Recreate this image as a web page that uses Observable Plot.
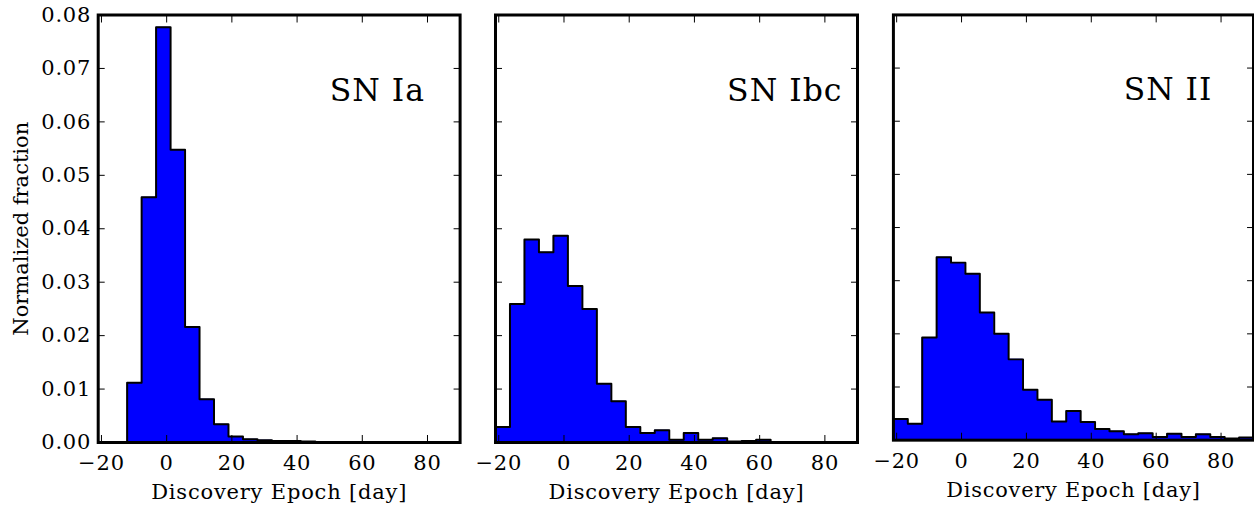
<!DOCTYPE html>
<html>
<head>
<meta charset="utf-8">
<script src="https://cdn.jsdelivr.net/npm/d3@7"></script>
<script src="https://cdn.jsdelivr.net/npm/@observablehq/plot@0.6"></script>
<style>
  html, body { margin: 0; padding: 0; background: #fff; }
  body { width: 1254px; height: 510px; overflow: hidden; position: relative; }
  .panel { position: absolute; top: 0; }
</style>
</head>
<body>
<div id="p1" class="panel" style="left:0px"></div>
<div id="p2" class="panel" style="left:477px"></div>
<div id="p3" class="panel" style="left:875px"></div>
<script>
// Histogram bin edges (days): 25 equal bins from -21 to 90
const binEdges = [-21, -16.56, -12.12, -7.68, -3.24, 1.2, 5.64, 10.08, 14.52, 18.96, 23.4, 27.84,
  32.28, 36.72, 41.16, 45.6, 50.04, 54.48, 58.92, 63.36, 67.8, 72.24, 76.68, 81.12, 85.56, 90];

// Normalized fractions per bin
const snIaValues = [0, 0, 0.0112, 0.0459, 0.0777, 0.0548, 0.0216, 0.0081, 0.0034, 0.0011, 0.0006,
  0.0004, 0.0003, 0.0003, 0.0002, 0, 0, 0, 0, 0, 0, 0, 0, 0, 0];
const snIbcValues = [0.0029, 0.0259, 0.0380, 0.0356, 0.0387, 0.0293, 0.0250, 0.0110, 0.0077, 0.0029,
  0.0018, 0.0023, 0.0005, 0.0018, 0.0005, 0.0008, 0.0002, 0.0003, 0.0005, 0, 0, 0, 0, 0, 0];
const snIIValues = [0.0040, 0.0031, 0.0193, 0.0344, 0.0334, 0.0313, 0.0240, 0.0200, 0.0152, 0.0095,
  0.0076, 0.0035, 0.0055, 0.0034, 0.0021, 0.0017, 0.0011, 0.0013, 0.0006, 0.0012, 0.0006, 0.0011,
  0.0006, 0.0003, 0.0005];

const panelNames = ["SN Ia", "SN Ibc", "SN II"];
const xTicks = [-20, 0, 20, 40, 60, 80];
const yTicks = [0, 0.01, 0.02, 0.03, 0.04, 0.05, 0.06, 0.07, 0.08];
const xDomain = [-21, 90];
const yDomain = [0, 0.08];
const xLabel = "Discovery Epoch [day]";
const yLabel = "Normalized fraction";
const nameX = 50, nameY = 0.064;

const FONT = "DejaVu Serif";
const fmtX = d => d < 0 ? "\u2212" + Math.abs(d) : String(d);
const fmtY = d3.format(".2f");

function stepPoints(values) {
  const pts = [{x: binEdges[0], y: 0}];
  values.forEach((v, i) => {
    pts.push({x: binEdges[i], y: v});
    pts.push({x: binEdges[i + 1], y: v});
  });
  pts.push({x: binEdges[binEdges.length - 1], y: 0});
  return pts;
}

function panel(values, name, opts) {
  const pts = stepPoints(values);
  const marks = [
    Plot.area(pts, {x1: "x", y1: 0, y2: "y", fill: "#0000ff", clip: true}),
    Plot.line(pts, {x: "x", y: "y", stroke: "black", strokeWidth: 2, clip: true}),
    // inward ticks on all four sides
    Plot.axisX(xTicks, {anchor: "bottom", tickSize: -7, tickFormat: () => "", label: null, stroke: "black"}),
    Plot.axisX(xTicks, {anchor: "top", tickSize: -7, tickFormat: () => "", label: null, stroke: "black"}),
    Plot.axisY(yTicks, {anchor: "left", tickSize: -7, tickFormat: () => "", label: null, stroke: "black"}),
    Plot.axisY(yTicks, {anchor: "right", tickSize: -7, tickFormat: () => "", label: null, stroke: "black"}),
    // x tick labels
    Plot.axisX(xTicks, {anchor: "bottom", tickSize: 0, tickPadding: 13, tickFormat: fmtX, label: null,
      fontSize: 21, fontFamily: FONT, fill: "black"}),
    Plot.frame({stroke: "black", strokeWidth: 3}),
    Plot.text([xLabel], {frameAnchor: "bottom", dy: 42, lineAnchor: "top", fontSize: 21, fontFamily: FONT, fill: "black"}),
    Plot.text([name], {x: () => nameX, y: () => nameY, text: d => d, textAnchor: "start", lineAnchor: "bottom",
      fontSize: 31.5, fontFamily: FONT, fill: "black"})
  ];
  if (opts.yLabels) {
    marks.push(Plot.axisY(yTicks, {anchor: "left", tickSize: 0, tickPadding: 7, tickFormat: fmtY, label: null,
      fontSize: 21, fontFamily: FONT, fill: "black"}));
    marks.push(Plot.text([yLabel], {frameAnchor: "left", dx: -77, rotate: -90, textAnchor: "middle",
      fontSize: 21, fontFamily: FONT, fill: "black"}));
  }
  const svg = Plot.plot({
    width: opts.width,
    height: 510,
    marginTop: 14.5,
    marginBottom: 68,
    marginLeft: opts.ml,
    marginRight: opts.mr,
    x: {domain: xDomain},
    y: {domain: yDomain},
    style: {fontFamily: FONT, fontSize: "20px", background: "transparent", overflow: "visible", color: "black"},
    marks
  });
  // horizontal texts in the reference are slightly wider
  d3.select(svg).selectAll("text").each(function() {
    const t = this.getAttribute("transform") || "";
    const rotated = /rotate/.test(t);
    const fs = parseFloat(this.getAttribute("font-size") || this.parentNode.getAttribute("font-size") || 20);
    this.style.letterSpacing = rotated ? "0px" : (fs > 25 ? "1px" : "0.8px");
  });
  return svg;
}

document.getElementById("p1").appendChild(panel(snIaValues, panelNames[0], {width: 477, ml: 97.7, mr: 17.4, yLabels: true}));
document.getElementById("p2").appendChild(panel(snIbcValues, panelNames[1], {width: 398, ml: 18, mr: 18, yLabels: false}));
document.getElementById("p3").appendChild(panel(snIIValues, panelNames[2], {width: 381, ml: 18, mr: 1, yLabels: false}));
</script>
</body>
</html>
